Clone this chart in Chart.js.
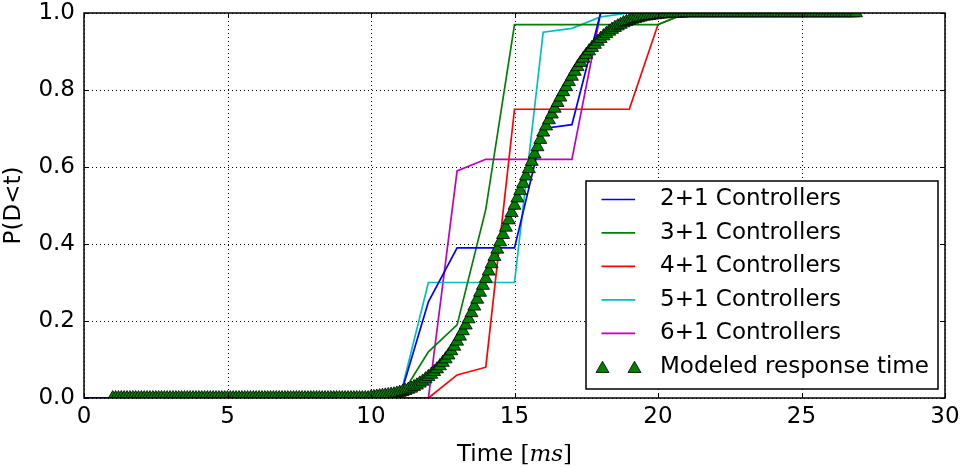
<!DOCTYPE html>
<html>
<head>
<meta charset="utf-8">
<script src="https://cdn.jsdelivr.net/npm/chart.js@4.4.0/dist/chart.umd.min.js"></script>
<style>
  html, body { margin: 0; padding: 0; background: #fff; }
  canvas { display: block; }
</style>
</head>
<body>
<canvas id="cdfChart" width="965" height="467"></canvas>
<script>
// Measured step CDFs, sampled every 1 ms
const ctrlTimes = [0, 1, 2, 3, 4, 5, 6, 7, 8, 9, 10, 11, 12, 13, 14, 15, 16, 17, 18, 19, 20, 21, 22];
const ctrl2 = [0, 0, 0, 0, 0, 0, 0, 0, 0, 0, 0, 0, 0.25, 0.39, 0.39, 0.39, 0.70, 0.71, 1, 1, 1, 1, 1];
const ctrl3 = [0, 0, 0, 0, 0, 0, 0, 0, 0, 0, 0, 0, 0.12, 0.19, 0.49, 0.97, 0.97, 0.97, 0.97, 0.97, 0.97, 1, 1];
const ctrl4 = [0, 0, 0, 0, 0, 0, 0, 0, 0, 0, 0, 0, 0, 0.06, 0.08, 0.75, 0.75, 0.75, 0.75, 0.75, 0.97, 1, 1];
const ctrl5 = [0, 0, 0, 0, 0, 0, 0, 0, 0, 0, 0, 0, 0.30, 0.30, 0.30, 0.30, 0.95, 0.96, 0.99, 1, 1, 1, 1];
const ctrl6 = [0, 0, 0, 0, 0, 0, 0, 0, 0, 0, 0, 0, 0, 0.59, 0.62, 0.62, 0.62, 0.62, 1, 1, 1, 1, 1];

// Modeled response time, one point every 0.1 ms from 1.0 ms
const modelStart = 1.0;
const modelStep = 0.1;
const modelP = [
  0, 0, 0, 0, 0, 0, 0, 0, 0, 0,   // 1
  0, 0, 0, 0, 0, 0, 0, 0, 0, 0,   // 2
  0, 0, 0, 0, 0, 0, 0, 0, 0, 0,   // 3
  0, 0, 0, 0, 0, 0, 0, 0, 0, 0,   // 4
  0, 0, 0, 0, 0, 0, 0, 0, 0, 0,   // 5
  0, 0, 0, 0, 0, 0, 0, 0, 0, 0,   // 6
  0, 0, 0, 0, 0, 0, 0, 0, 0, 0,   // 7
  0, 0, 0, 0, 0, 0, 0, 0, 0, 0,   // 8
  0, 0, 0, 0, 0, 0, 0, 0, 0, 0,   // 9
  0.002, 0.003, 0.004, 0.005, 0.006, 0.007, 0.008, 0.009, 0.010, 0.012,   // 10
  0.014, 0.016, 0.019, 0.022, 0.025, 0.029, 0.033, 0.038, 0.043, 0.049,   // 11
  0.055, 0.061, 0.068, 0.075, 0.083, 0.092, 0.101, 0.111, 0.122, 0.134,   // 12
  0.147, 0.160, 0.174, 0.189, 0.205, 0.221, 0.238, 0.256, 0.274, 0.292,   // 13
  0.310, 0.329, 0.348, 0.367, 0.386, 0.405, 0.424, 0.443, 0.462, 0.481,   // 14
  0.500, 0.519, 0.538, 0.557, 0.576, 0.595, 0.614, 0.633, 0.652, 0.671,   // 15
  0.690, 0.706, 0.722, 0.737, 0.752, 0.767, 0.781, 0.795, 0.808, 0.821,   // 16
  0.835, 0.848, 0.860, 0.871, 0.882, 0.892, 0.901, 0.910, 0.918, 0.926,   // 17
  0.933, 0.940, 0.946, 0.952, 0.957, 0.962, 0.966, 0.970, 0.974, 0.977,   // 18
  0.980, 0.983, 0.985, 0.987, 0.989, 0.991, 0.992, 0.993, 0.994, 0.995,   // 19
  0.996, 0.997, 0.997, 0.998, 0.998, 0.999, 0.999, 0.999, 0.999, 1,       // 20
  1, 1, 1, 1, 1, 1, 1, 1, 1, 1,   // 21
  1, 1, 1, 1, 1, 1, 1, 1, 1, 1,   // 22
  1, 1, 1, 1, 1, 1, 1, 1, 1, 1,   // 23
  1, 1, 1, 1, 1, 1, 1, 1, 1, 1,   // 24
  1, 1, 1, 1, 1, 1, 1, 1, 1, 1,   // 25
  1, 1, 1, 1, 1, 1, 1, 1, 1, 1    // 26
];

const seriesLabels = ['2+1 Controllers', '3+1 Controllers', '4+1 Controllers', '5+1 Controllers', '6+1 Controllers'];
const modelLabel = 'Modeled response time';
const xTicks = [0, 5, 10, 15, 20, 25, 30];
const yTicks = [0, 0.2, 0.4, 0.6, 0.8, 1.0];

const lineColors = ['#0000ff', '#008000', '#ff0000', '#00bfbf', '#bf00bf'];
const FONT = '"DejaVu Sans", sans-serif';
const MARK_R = 7.5;

function toPoints(xs, ys) {
  return xs.map((t, i) => ({ x: t, y: ys[i] }));
}

const ctrlSeries = [ctrl2, ctrl3, ctrl4, ctrl5, ctrl6];
const datasets = ctrlSeries.map((vals, i) => ({
  label: seriesLabels[i],
  data: toPoints(ctrlTimes, vals),
  showLine: true,
  borderColor: lineColors[i],
  backgroundColor: lineColors[i],
  borderWidth: 1.7,
  pointRadius: 0,
  tension: 0,
  order: 1
}));

datasets.push({
  label: modelLabel,
  data: modelP.map((p, i) => ({ x: modelStart + i * modelStep, y: p })),
  showLine: false,
  pointStyle: 'triangle',
  pointRadius: MARK_R,
  backgroundColor: '#008000',
  borderColor: '#000000',
  pointBorderWidth: 0.8,
  clip: 0,
  order: 0
});

function triangle(ctx, x, y, r) {
  ctx.beginPath();
  ctx.moveTo(x, y - r);
  ctx.lineTo(x + r * 0.866, y + r * 0.5);
  ctx.lineTo(x - r * 0.866, y + r * 0.5);
  ctx.closePath();
  ctx.fill();
  ctx.stroke();
}

// grid, inward ticks, frame, legend and axis titles in matplotlib style
const framePlugin = {
  id: 'frame',
  beforeDatasetsDraw(chart) {
    const { ctx, chartArea: a, scales: { x, y } } = chart;
    ctx.save();
    ctx.strokeStyle = '#000';
    ctx.lineWidth = 1;
    ctx.setLineDash([1, 3]);
    xTicks.forEach(v => {
      const px = Math.round(x.getPixelForValue(v)) + 0.5;
      ctx.beginPath(); ctx.moveTo(px, a.top); ctx.lineTo(px, a.bottom); ctx.stroke();
    });
    yTicks.forEach(v => {
      const py = Math.round(y.getPixelForValue(v)) + 0.5;
      ctx.beginPath(); ctx.moveTo(a.left, py); ctx.lineTo(a.right, py); ctx.stroke();
    });
    ctx.restore();
  },
  afterDatasetsDraw(chart) {
    const { ctx, chartArea: a, scales: { x, y } } = chart;
    ctx.save();
    ctx.strokeStyle = '#000';
    ctx.lineWidth = 1;
    const tl = 5;
    xTicks.forEach(v => {
      const px = Math.round(x.getPixelForValue(v)) + 0.5;
      ctx.beginPath();
      ctx.moveTo(px, a.bottom); ctx.lineTo(px, a.bottom - tl);
      ctx.moveTo(px, a.top); ctx.lineTo(px, a.top + tl);
      ctx.stroke();
    });
    yTicks.forEach(v => {
      const py = Math.round(y.getPixelForValue(v)) + 0.5;
      ctx.beginPath();
      ctx.moveTo(a.left, py); ctx.lineTo(a.left + tl, py);
      ctx.moveTo(a.right, py); ctx.lineTo(a.right - tl, py);
      ctx.stroke();
    });
    ctx.lineWidth = 1.5;
    ctx.strokeRect(a.left, a.top, a.right - a.left, a.bottom - a.top);
    ctx.restore();
  },
  afterDraw(chart) {
    const { ctx, chartArea: a } = chart;
    ctx.save();

    // legend
    const bx = 586, by = 181, bw = 352, bh = 208;
    ctx.fillStyle = '#fff';
    ctx.fillRect(bx, by, bw, bh);
    ctx.strokeStyle = '#000';
    ctx.lineWidth = 1.5;
    ctx.strokeRect(bx, by, bw, bh);
    ctx.font = '23px ' + FONT;
    ctx.textBaseline = 'middle';
    ctx.textAlign = 'left';
    const rowY0 = 199.5, rowH = 33.45;
    chart.data.datasets.forEach((ds, i) => {
      const ry = rowY0 + i * rowH;
      if (ds.showLine) {
        ctx.strokeStyle = ds.borderColor;
        ctx.lineWidth = 1.7;
        ctx.beginPath(); ctx.moveTo(601.5, ry); ctx.lineTo(635, ry); ctx.stroke();
      } else {
        ctx.fillStyle = ds.backgroundColor;
        ctx.strokeStyle = ds.borderColor;
        ctx.lineWidth = 0.8;
        triangle(ctx, 602.5, ry + 2, MARK_R);
        triangle(ctx, 634.5, ry + 2, MARK_R);
      }
      ctx.fillStyle = '#000';
      ctx.fillText(ds.label, 660, ry);
    });

    // x title: Time [ms]
    ctx.fillStyle = '#000';
    ctx.textBaseline = 'alphabetic';
    const cx = (a.left + a.right) / 2;
    const partA = 'Time ';
    ctx.font = '23px ' + FONT;
    const wA = ctx.measureText(partA).width;
    ctx.font = '23px "DejaVu Serif", serif';
    const wB1 = ctx.measureText('[').width;
    ctx.font = 'italic 23px "DejaVu Serif", serif';
    const wB2 = ctx.measureText('ms').width;
    ctx.font = '23px "DejaVu Serif", serif';
    const wB3 = ctx.measureText(']').width;
    let tx = cx - (wA + wB1 + wB2 + wB3) / 2;
    const ty = 461;
    ctx.font = '23px ' + FONT;
    ctx.fillText(partA, tx, ty); tx += wA;
    ctx.font = '23px "DejaVu Serif", serif';
    ctx.fillText('[', tx, ty); tx += wB1;
    ctx.font = 'italic 23px "DejaVu Serif", serif';
    ctx.fillText('ms', tx, ty); tx += wB2;
    ctx.font = '23px "DejaVu Serif", serif';
    ctx.fillText(']', tx, ty);

    // y title
    ctx.translate(20, (a.top + a.bottom) / 2);
    ctx.rotate(-Math.PI / 2);
    ctx.font = '23px ' + FONT;
    ctx.textAlign = 'center';
    ctx.fillText('P(D<t)', 0, 0);
    ctx.restore();
  }
};

const chart = new Chart(document.getElementById('cdfChart'), {
  type: 'scatter',
  data: { datasets: datasets },
  options: {
    responsive: false,
    animation: false,
    devicePixelRatio: 1,
    events: [],
    layout: { padding: { top: 13, right: 20, left: 0, bottom: 0 } },
    plugins: {
      legend: { display: false },
      tooltip: { enabled: false }
    },
    scales: {
      x: {
        type: 'linear',
        min: 0,
        max: 30,
        afterFit: s => { s.height = 69; s.paddingLeft = 0; s.paddingRight = 0; },
        afterBuildTicks: s => { s.ticks = xTicks.map(v => ({ value: v })); },
        ticks: {
          color: '#000',
          font: { family: FONT, size: 23 },
          padding: 5,
          maxRotation: 0,
          callback: v => String(v)
        },
        grid: { display: false, drawTicks: false },
        border: { display: false }
      },
      y: {
        min: 0,
        max: 1,
        afterFit: s => { s.width = 84; s.paddingTop = 0; s.paddingBottom = 0; },
        afterBuildTicks: s => { s.ticks = yTicks.map(v => ({ value: v })); },
        ticks: {
          color: '#000',
          font: { family: FONT, size: 23 },
          padding: 9,
          callback: v => Number(v).toFixed(1)
        },
        grid: { display: false, drawTicks: false },
        border: { display: false }
      }
    }
  },
  plugins: [framePlugin]
});
</script>
</body>
</html>
